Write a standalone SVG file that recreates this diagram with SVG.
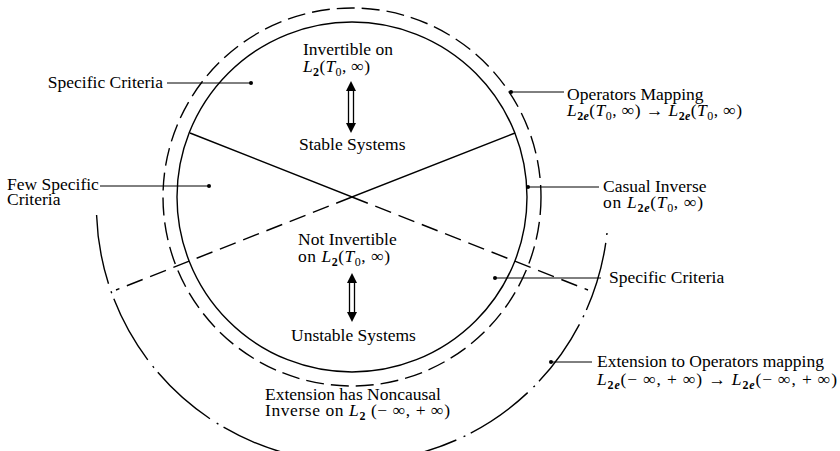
<svg xmlns="http://www.w3.org/2000/svg" width="840" height="451" viewBox="0 0 840 451">
<style>
text{font-family:"Liberation Serif","Times New Roman",serif;font-size:17.5px;fill:#000}
.it{font-style:italic}
.sb{font-size:12px;font-weight:bold}
.c{fill:none;stroke:#000;stroke-width:1.4}
.ld{fill:none;stroke:#000;stroke-width:1}
.dot{fill:#000}
</style>
<g id="regions">
<circle id="inner-circle" class="c" cx="352" cy="197" r="175"/>
<circle id="dashed-circle" class="c" cx="352" cy="197" r="189" stroke-dasharray="18 7"/>
<path id="dashdot-arc" class="c" stroke-width="1.8" d="M607,233 A256,256 0 0 1 96.5,212.2" stroke-dasharray="2 8 70 6"/>
</g>
<g id="connectors">
<polyline class="c" points="190,133 352,197 515,133"/>
<path class="c" d="M352,197 L116,290 M352,197 L588,290" stroke-dasharray="17 8"/>
<line class="ld" x1="167" y1="83" x2="251" y2="83"/><circle class="dot" cx="251" cy="83" r="2"/>
<line class="ld" x1="100" y1="186" x2="209" y2="186"/><circle class="dot" cx="209" cy="186" r="2"/>
<line class="ld" x1="511" y1="92" x2="564" y2="92"/><circle class="dot" cx="511" cy="92" r="2"/>
<line class="ld" x1="528" y1="187" x2="599" y2="187"/><circle class="dot" cx="528" cy="187" r="2"/>
<line class="ld" x1="495" y1="278" x2="601" y2="278"/><circle class="dot" cx="495" cy="278" r="2"/>
<line class="ld" x1="551" y1="362" x2="592" y2="362"/><circle class="dot" cx="551" cy="362" r="2"/>
</g>
<g id="arrow-top">
<rect x="348.5" y="89" width="5" height="36" fill="#fff" stroke="#000" stroke-width="1.3"/>
<polygon points="351,81 356,91 346,91" fill="#000"/>
<polygon points="351,133 356,123 346,123" fill="#000"/>
</g>
<g id="arrow-bottom">
<rect x="349.5" y="281" width="5" height="33" fill="#fff" stroke="#000" stroke-width="1.3"/>
<polygon points="352,273 357,283 347,283" fill="#000"/>
<polygon points="352,322 357,312 347,312" fill="#000"/>
</g>
<g id="node-invertible">
<text x="303" y="55">Invertible on</text>
<text x="303" y="72" textLength="67" lengthAdjust="spacing"><tspan class="it">L</tspan><tspan class="sb" dy="4">2</tspan><tspan dy="-4">(</tspan><tspan class="it">T</tspan><tspan font-size="12" dy="4">0</tspan><tspan dy="-4">, ∞)</tspan></text>
<text x="299" y="150">Stable Systems</text>
</g>
<g id="node-not-invertible">
<text x="298" y="245">Not Invertible</text>
<text x="298" y="262" textLength="92" lengthAdjust="spacing">on <tspan class="it">L</tspan><tspan class="sb" dy="4">2</tspan><tspan dy="-4">(</tspan><tspan class="it">T</tspan><tspan font-size="12" dy="4">0</tspan><tspan dy="-4">, ∞)</tspan></text>
<text x="291" y="341">Unstable Systems</text>
</g>
<g id="label-specific-left">
<text x="163" y="88" text-anchor="end">Specific Criteria</text>
</g>
<g id="label-few-specific">
<text x="7" y="190">Few Specific</text>
<text x="7" y="205">Criteria</text>
</g>
<g id="label-operators-mapping">
<text x="567" y="100">Operators Mapping</text>
<text x="567" y="116" textLength="175" lengthAdjust="spacing"><tspan class="it">L</tspan><tspan class="sb" dy="4">2<tspan font-style="italic">e</tspan></tspan><tspan dy="-4">(</tspan><tspan class="it">T</tspan><tspan font-size="12" dy="4">0</tspan><tspan dy="-4">, ∞) → </tspan><tspan class="it">L</tspan><tspan class="sb" dy="4">2<tspan font-style="italic">e</tspan></tspan><tspan dy="-4">(</tspan><tspan class="it">T</tspan><tspan font-size="12" dy="4">0</tspan><tspan dy="-4">, ∞)</tspan></text>
</g>
<g id="label-casual-inverse">
<text x="603" y="192">Casual Inverse</text>
<text x="603" y="208" textLength="100" lengthAdjust="spacing">on <tspan class="it">L</tspan><tspan class="sb" dy="4">2<tspan font-style="italic">e</tspan></tspan><tspan dy="-4">(</tspan><tspan class="it">T</tspan><tspan font-size="12" dy="4">0</tspan><tspan dy="-4">, ∞)</tspan></text>
</g>
<g id="label-specific-right">
<text x="609" y="283">Specific Criteria</text>
</g>
<g id="label-extension-operators">
<text x="597" y="367">Extension to Operators mapping</text>
<text x="597" y="385" textLength="240" lengthAdjust="spacing"><tspan class="it">L</tspan><tspan class="sb" dy="4">2<tspan font-style="italic">e</tspan></tspan><tspan dy="-4">(− ∞, + ∞) → </tspan><tspan class="it">L</tspan><tspan class="sb" dy="4">2<tspan font-style="italic">e</tspan></tspan><tspan dy="-4">(− ∞, + ∞)</tspan></text>
</g>
<g id="label-noncausal">
<text x="265" y="400">Extension has Noncausal</text>
<text x="265" y="416" textLength="185" lengthAdjust="spacing">Inverse on <tspan class="it">L</tspan><tspan class="sb" dy="4">2</tspan><tspan dy="-4"> (− ∞, + ∞)</tspan></text>
</g>
</svg>
